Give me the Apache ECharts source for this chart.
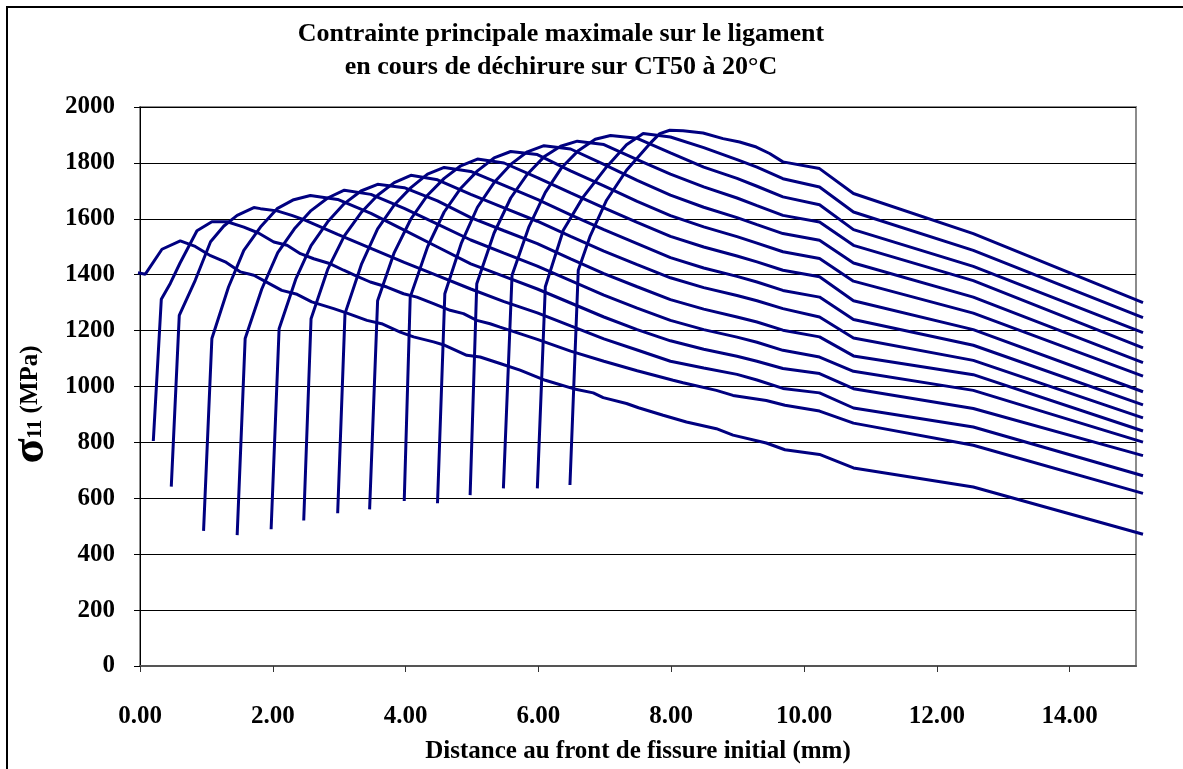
<!DOCTYPE html>
<html>
<head>
<meta charset="utf-8">
<script src="https://cdn.jsdelivr.net/npm/echarts@6/dist/echarts.min.js"></script>
<style>
html,body{margin:0;padding:0;background:#fff;}
#chart{width:1183px;height:769px;}
</style>
</head>
<body>
<div id="chart"></div>
<script>
// ---- data (x in mm, y in MPa) ----
const titleLines = ['Contrainte principale maximale sur le ligament', 'en cours de déchirure sur CT50 à 20°C'];
const xAxisTitle = 'Distance au front de fissure initial (mm)';
const yTicks = [0, 200, 400, 600, 800, 1000, 1200, 1400, 1600, 1800, 2000];
const xTicks = [0, 2, 4, 6, 8, 10, 12, 14];

const c00 = [[0,1408],[0.11,1403],[0.36,1492],[0.635,1522],[0.86,1502],[1.09,1469],[1.31,1447],[1.54,1411],[1.74,1399],[1.89,1380],[2.16,1345],[2.39,1331],[2.61,1304],[2.94,1280],[3.14,1264],[3.44,1238],[3.66,1226],[3.94,1196],[4.14,1179],[4.44,1161],[4.61,1149],[4.94,1113],[5.14,1107],[5.44,1084],[5.74,1060],[6.12,1024],[6.54,994],[6.84,979],[6.99,962],[7.34,941],[7.52,926],[7.89,899],[8.24,875],[8.69,851],[8.94,828],[9.44,800],[9.72,776],[10.24,759],[10.75,711],[12.55,643],[15.1,474]];
const c01 = [[0.23,807],[0.35,1313],[0.485,1370],[0.63,1442],[0.886,1558],[1.11,1590],[1.34,1590],[1.59,1571],[1.81,1550],[2.04,1518],[2.24,1506],[2.44,1476],[2.64,1458],[2.89,1440],[3.09,1417],[3.26,1399],[3.49,1375],[3.74,1357],[3.99,1333],[4.19,1321],[4.44,1298],[4.69,1274],[4.89,1262],[5.09,1238],[5.29,1226],[5.44,1214],[6.0,1170],[6.5,1128],[7.0,1092],[7.5,1058],[8.04,1024],[8.19,1015],[8.69,988],[8.94,970],[9.44,952],[9.72,935],[10.24,914],[10.75,871],[12.55,792],[15.1,620]];
const c02 = [[0.5,644],[0.62,1256],[0.86,1381],[1.09,1519],[1.29,1575],[1.49,1613],[1.74,1641],[1.84,1637],[2.09,1629],[2.31,1613],[2.5,1597],[3.0,1545],[3.5,1495],[4.0,1445],[4.5,1398],[5.0,1350],[5.5,1305],[6.0,1265],[6.5,1218],[7.0,1172],[7.5,1132],[8.0,1092],[8.5,1068],[9.0,1045],[9.3,1025],[9.69,995],[10.24,979],[10.75,925],[12.55,857],[15.1,683]];
const c03 = [[0.985,486],[1.11,1173],[1.36,1357],[1.59,1488],[1.84,1571],[2.09,1637],[2.34,1669],[2.59,1684],[3.0,1670],[3.5,1620],[4.0,1560],[4.5,1500],[5.0,1440],[5.5,1395],[6.0,1350],[6.5,1300],[7.0,1250],[7.5,1205],[8.0,1165],[8.5,1135],[9.0,1110],[9.3,1092],[9.69,1066],[10.24,1048],[10.75,994],[12.55,923],[15.1,755]];
const c04 = [[1.49,471],[1.61,1173],[1.86,1350],[2.1,1480],[2.35,1565],[2.6,1630],[2.85,1675],[3.1,1703],[3.5,1688],[4.0,1638],[4.5,1582],[5.0,1525],[5.5,1478],[6.0,1432],[6.5,1380],[7.0,1328],[7.5,1282],[8.0,1238],[8.5,1205],[9.0,1178],[9.3,1160],[9.69,1131],[10.24,1107],[10.75,1056],[12.55,988],[15.1,803]];
const c05 = [[2.0,492],[2.12,1208],[2.37,1385],[2.6,1505],[2.85,1590],[3.1,1655],[3.35,1700],[3.6,1724],[4.0,1712],[4.5,1665],[5.0,1605],[5.5,1558],[6.0,1512],[6.5,1458],[7.0,1405],[7.5,1358],[8.0,1312],[8.5,1278],[9.0,1250],[9.3,1232],[9.69,1203],[10.24,1179],[10.75,1111],[12.55,1044],[15.1,843]];
const c06 = [[2.49,523],[2.6,1244],[2.85,1420],[3.1,1540],[3.35,1622],[3.6,1685],[3.85,1730],[4.1,1756],[4.5,1740],[5.0,1688],[5.5,1640],[6.0,1592],[6.5,1538],[7.0,1485],[7.5,1437],[8.0,1390],[8.5,1355],[9.0,1327],[9.3,1308],[9.69,1280],[10.24,1250],[10.75,1175],[12.55,1095],[15.1,890]];
const c07 = [[3.0,549],[3.11,1262],[3.36,1440],[3.6,1565],[3.85,1650],[4.1,1712],[4.35,1760],[4.6,1784],[5.0,1770],[5.5,1720],[6.0,1670],[6.5,1615],[7.0,1562],[7.5,1512],[8.0,1462],[8.5,1425],[9.0,1395],[9.3,1375],[9.69,1345],[10.24,1321],[10.75,1241],[12.55,1149],[15.1,936]];
const c08 = [[3.48,563],[3.6,1308],[3.85,1480],[4.1,1600],[4.35,1685],[4.6,1745],[4.85,1790],[5.1,1814],[5.5,1800],[6.0,1748],[6.5,1693],[7.0,1640],[7.5,1588],[8.0,1538],[8.5,1500],[9.0,1468],[9.3,1447],[9.69,1417],[10.24,1394],[10.75,1308],[12.55,1205],[15.1,983]];
const c09 = [[4.0,593],[4.09,1321],[4.35,1500],[4.6,1625],[4.85,1710],[5.1,1772],[5.35,1818],[5.6,1841],[6.0,1830],[6.5,1772],[7.0,1718],[7.5,1663],[8.0,1612],[8.5,1572],[9.0,1537],[9.3,1514],[9.69,1483],[10.24,1459],[10.75,1378],[12.55,1264],[15.1,1039]];
const c10 = [[4.5,585],[4.61,1333],[4.86,1515],[5.1,1642],[5.35,1730],[5.6,1795],[5.85,1840],[6.1,1862],[6.5,1850],[7.0,1795],[7.5,1738],[8.0,1685],[8.5,1642],[9.0,1605],[9.3,1580],[9.69,1548],[10.24,1524],[10.75,1443],[12.55,1321],[15.1,1087]];
const c11 = [[4.99,614],[5.09,1369],[5.35,1550],[5.6,1675],[5.85,1760],[6.1,1822],[6.35,1860],[6.6,1878],[7.0,1866],[7.5,1812],[8.0,1760],[8.5,1715],[9.0,1675],[9.3,1648],[9.69,1613],[10.24,1589],[10.75,1506],[12.55,1380],[15.1,1140]];
const c12 = [[5.49,638],[5.62,1399],[5.87,1570],[6.12,1695],[6.37,1785],[6.62,1845],[6.87,1885],[7.1,1898],[7.5,1888],[8.0,1836],[8.5,1785],[9.0,1745],[9.3,1717],[9.69,1679],[10.24,1651],[10.75,1562],[12.55,1431],[15.1,1194]];
const c13 = [[6.0,638],[6.12,1358],[6.39,1560],[6.69,1679],[7.04,1786],[7.34,1865],[7.59,1905],[8.0,1893],[8.5,1855],[9.0,1812],[9.3,1785],[9.69,1744],[10.24,1714],[10.75,1625],[12.55,1488],[15.1,1248]];
const c14 = [[6.49,650],[6.615,1417],[6.79,1537],[7.04,1667],[7.34,1774],[7.69,1869],[7.84,1905],[7.99,1917],[8.19,1915],[8.49,1907],[8.79,1887],[9.04,1875],[9.29,1857],[9.49,1834],[9.69,1804],[10.24,1780],[10.75,1691],[12.55,1548],[15.1,1301]];

const curves = [c00, c01, c02, c03, c04, c05, c06, c07, c08, c09, c10, c11, c12, c13, c14];

// ---- chart ----
const FONT = "'Times New Roman', 'Liberation Serif', serif";
const chart = echarts.init(document.getElementById('chart'));
chart.setOption({
  backgroundColor: '#fff',
  animation: false,
  title: {
    text: titleLines.join('\n'),
    left: 556, top: 13,
    textAlign: 'center',
    textStyle: { fontFamily: FONT, fontWeight: 'bold', fontSize: 26, lineHeight: 33, color: '#000' }
  },
  grid: [
    // visible frame: axes, gridlines, border (0 .. 15 mm)
    { left: 138, right: 47, top: 107, bottom: 102, show: true, borderColor: '#8c8c8c', borderWidth: 2, backgroundColor: '#fff' },
    // data layer: same scale, data run slightly past the frame (to 15.1 mm)
    { left: 138, right: 40, top: 107, bottom: 102, show: false }
  ],
  xAxis: [{
    gridIndex: 0, type: 'value', min: 0, max: 15, interval: 2,
    name: xAxisTitle, nameLocation: 'middle', nameGap: 73,
    nameTextStyle: { fontFamily: FONT, fontWeight: 'bold', fontSize: 25, color: '#000' },
    axisLine: { show: true, lineStyle: { color: '#555', width: 2 } },
    axisTick: { show: true, length: 6, inside: false, lineStyle: { color: '#333' } },
    axisLabel: {
      show: true, margin: 38, showMaxLabel: false,
      fontFamily: FONT, fontWeight: 'bold', fontSize: 25, color: '#000',
      formatter: v => xTicks.includes(v) ? v.toFixed(2) : ''
    },
    splitLine: { show: false }
  }, {
    gridIndex: 1, type: 'value', min: 0, max: 15.1, show: false
  }],
  yAxis: [{
    gridIndex: 0, type: 'value', min: 0, max: 2000, interval: 200,
    name: '{s|σ}{n|11}{u| (MPa)}', nameLocation: 'middle', nameGap: 86, nameRotate: 90,
    nameTextStyle: {
      fontFamily: FONT, fontWeight: 'bold', color: '#000',
      rich: {
        s: { fontFamily: FONT, fontWeight: 'bold', fontSize: 46, color: '#000' },
        n: { fontFamily: FONT, fontWeight: 'bold', fontSize: 20, color: '#000', padding: [10, 0, 0, 0] },
        u: { fontFamily: FONT, fontWeight: 'bold', fontSize: 25, color: '#000', padding: [0, 36, 0, 0] }
      }
    },
    axisLine: { show: true, lineStyle: { color: '#000', width: 1 } },
    axisTick: { show: true, length: 6, lineStyle: { color: '#000' } },
    axisLabel: {
      show: true, margin: 25,
      fontFamily: FONT, fontWeight: 'bold', fontSize: 25, color: '#000',
      formatter: v => yTicks.includes(v) ? String(v) : ''
    },
    splitLine: { show: true, lineStyle: { color: '#000', width: 1 } }
  }, {
    gridIndex: 1, type: 'value', min: 0, max: 2000, show: false
  }],
  graphic: [{
    type: 'polyline', silent: true, z: 100,
    shape: { points: [[7, 769], [7, 7], [1183, 7]] },
    style: { stroke: '#000', lineWidth: 2, fill: null }
  }],
  series: curves.map((c, i) => ({
    type: 'line', name: 'c' + i, data: c,
    xAxisIndex: 1, yAxisIndex: 1,
    showSymbol: false, symbol: 'none',
    lineStyle: { color: '#000080', width: 3 },
    z: 3
  }))
});
</script>
</body>
</html>
